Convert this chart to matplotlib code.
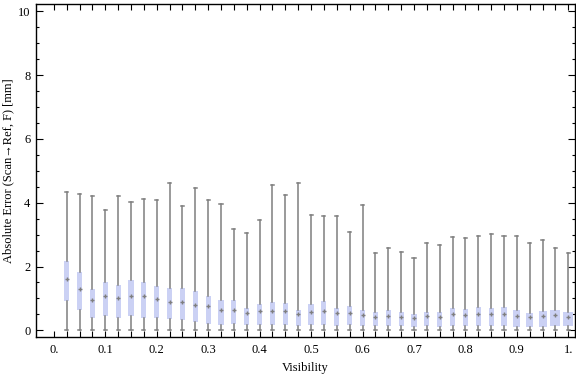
import numpy as np
import matplotlib
matplotlib.use("Agg")
import matplotlib.pyplot as plt
from matplotlib.ticker import MultipleLocator, FixedLocator

# box-whisker values (one entry per visibility bin)
visibility = [0.025 * i for i in range(1, 41)]
whisker_low = [0.0] * 40
whisker_high = [4.33, 4.26, 4.20, 3.76, 4.20, 4.01, 4.11, 4.08, 4.61, 3.89,
                4.45, 4.08, 3.95, 3.17, 3.04, 3.45, 4.55, 4.23, 4.61, 3.60,
                3.57, 3.57, 3.07, 3.92, 2.41, 2.57, 2.45, 2.26, 2.73, 2.66,
                2.92, 2.88, 2.95, 3.01, 2.95, 2.95, 2.73, 2.82, 2.57, 2.41]
q1 = [0.93, 0.64, 0.39, 0.45, 0.39, 0.45, 0.39, 0.39, 0.35, 0.32,
      0.26, 0.20, 0.17, 0.20, 0.17, 0.17, 0.17, 0.17, 0.14, 0.17,
      0.17, 0.14, 0.17, 0.14, 0.14, 0.14, 0.14, 0.10, 0.14, 0.10,
      0.14, 0.14, 0.14, 0.14, 0.14, 0.10, 0.10, 0.10, 0.14, 0.14]
q3 = [2.17, 1.83, 1.29, 1.51, 1.42, 1.58, 1.51, 1.39, 1.33, 1.33,
      1.23, 1.08, 0.95, 0.95, 0.70, 0.82, 0.89, 0.86, 0.64, 0.82,
      0.92, 0.70, 0.76, 0.64, 0.57, 0.64, 0.57, 0.51, 0.57, 0.57,
      0.70, 0.67, 0.73, 0.70, 0.73, 0.64, 0.54, 0.60, 0.64, 0.57]
centre = [1.61, 1.30, 0.95, 1.08, 1.00, 1.09, 1.09, 0.97, 0.90, 0.88,
          0.80, 0.75, 0.64, 0.64, 0.53, 0.60, 0.62, 0.61, 0.51, 0.56,
          0.59, 0.54, 0.53, 0.49, 0.43, 0.46, 0.41, 0.39, 0.45, 0.43,
          0.51, 0.48, 0.52, 0.51, 0.50, 0.46, 0.43, 0.46, 0.48, 0.43]
box_width_frac = [0.4] * 35 + [0.55, 0.55, 0.62, 0.78, 0.78]

x_tick_values = [0.1 * i for i in range(11)]
x_tick_labels = ["0.", "0.1", "0.2", "0.3", "0.4", "0.5", "0.6", "0.7", "0.8", "0.9", "1."]

plt.rcParams["font.family"] = ["Liberation Serif", "DejaVu Serif"]

fig = plt.figure(figsize=(5.76, 3.77), dpi=100)
ax = fig.add_axes([36 / 576, 1 - 337 / 377, (575 - 36) / 576, (337 - 4) / 377])

stats = []
for lo, a, m, b, hi in zip(whisker_low, q1, centre, q3, whisker_high):
    stats.append(dict(whislo=lo, q1=a, med=m, mean=m, q3=b, whishi=hi, fliers=[]))

widths = [0.025 * w for w in box_width_frac]
gray = "#7f7f7f"
ax.bxp(stats, positions=visibility, widths=widths, patch_artist=True,
       showmeans=True, manage_ticks=False,
       boxprops=dict(facecolor="#cbd1f4", edgecolor="#cbd1f4", linewidth=0.0),
       whiskerprops=dict(color=gray, linewidth=1.1),
       capprops=dict(color=gray, linewidth=1.1),
       capwidths=0.006,
       medianprops=dict(linewidth=0),
       meanprops=dict(marker="+", markersize=3.5, markeredgecolor=gray,
                      markeredgewidth=1.0, linestyle="none"))

ax.set_xlim(-0.0346, 1.013)
ax.set_ylim(-0.21, 10.23)

ax.xaxis.set_major_locator(FixedLocator(x_tick_values))
ax.set_xticklabels(x_tick_labels)
ax.xaxis.set_minor_locator(FixedLocator([0.025 * i for i in range(41)]))
ax.yaxis.set_major_locator(MultipleLocator(2))
ax.yaxis.set_minor_locator(MultipleLocator(0.5))

ax.tick_params(which="both", direction="in", top=True, right=True,
               labelsize=9, colors="black", width=0.8)
ax.tick_params(axis="x", which="both", length=4, pad=5)
ax.tick_params(axis="y", which="major", length=5, pad=4)
ax.tick_params(axis="y", which="minor", length=2.5)

for s in ax.spines.values():
    s.set_linewidth(1.0)

ax.set_xlabel("Visibility", fontsize=9)
ax.set_ylabel("Absolute Error (Scan\u2192Ref, F) [mm]", fontsize=9)
ax.xaxis.set_label_coords(0.5, -0.075)
ax.yaxis.set_label_coords(-0.041, 0.5)

fig.savefig("out.png", dpi=100)
